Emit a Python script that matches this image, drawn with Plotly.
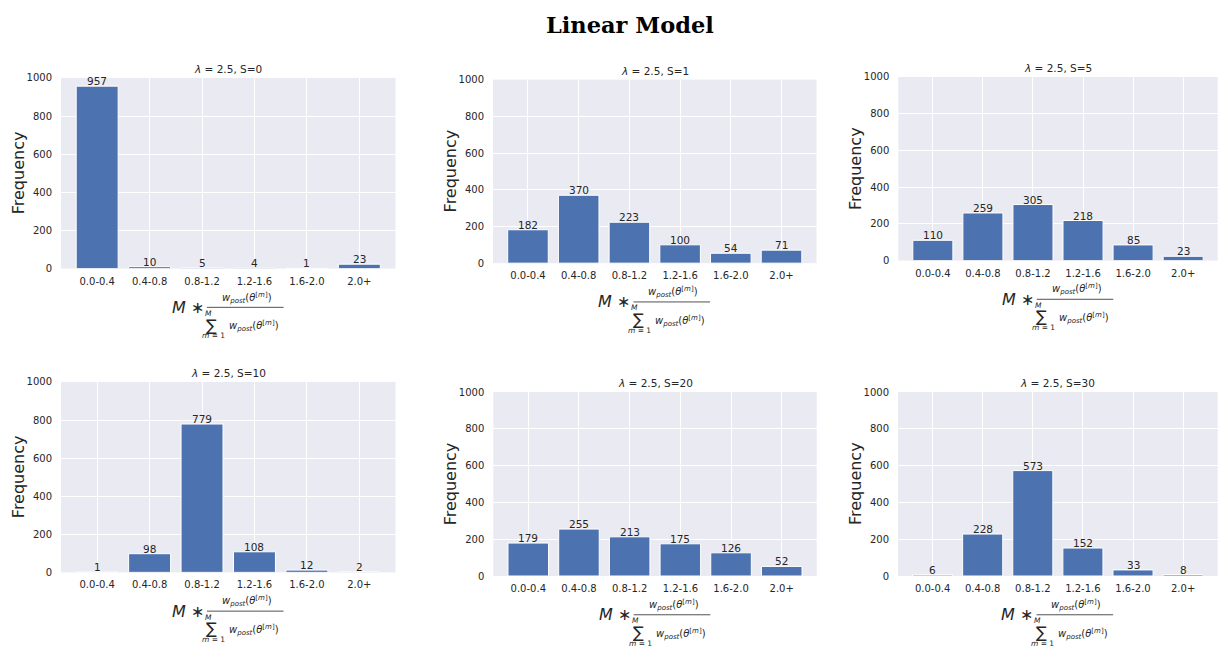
import plotly.graph_objects as go

# ---- data -------------------------------------------------------------
bins = ["0.0-0.4", "0.4-0.8", "0.8-1.2", "1.2-1.6", "1.6-2.0", "2.0+"]
s_values = [0, 1, 5, 10, 20, 30]
lam = 2.5

counts_s0 = [957, 10, 5, 4, 1, 23]
counts_s1 = [182, 370, 223, 100, 54, 71]
counts_s5 = [110, 259, 305, 218, 85, 23]
counts_s10 = [1, 98, 779, 108, 12, 2]
counts_s20 = [179, 255, 213, 175, 126, 52]
counts_s30 = [6, 228, 573, 152, 33, 8]
all_counts = [counts_s0, counts_s1, counts_s5, counts_s10, counts_s20, counts_s30]

y_ticks = [0, 200, 400, 600, 800, 1000]

# ---- layout geometry (pixels) ----------------------------------------
W, H = 1218, 651
# (left, right, top, bottom) of each plot area
boxes = [
    (61, 395.5, 73.3, 267.5),
    (493, 816.5, 75, 262),
    (898.3, 1217.7, 72.3, 259.3),
    (61, 395.5, 383, 577),
    (493.3, 816.7, 393.3, 580.7),
    (898, 1217.7, 393.3, 580.7),
]

BAR = "#4C72B0"
BG = "#EAEAF2"
TXT = "#262626"
FONT = "DejaVu Sans"


def px(x):
    return x / W


def py(y):
    return 1 - y / H


fig = go.Figure()
annotations = []
shapes = []

for i, (counts, s, (l, r, t, b)) in enumerate(zip(all_counts, s_values, boxes)):
    n = i + 1
    xa = "x" if n == 1 else f"x{n}"
    ya = "y" if n == 1 else f"y{n}"
    fig.add_trace(go.Bar(
        x=list(range(len(bins))), y=counts, xaxis=xa, yaxis=ya,
        marker=dict(color=BAR, line=dict(color="white", width=1)),
        width=0.8, showlegend=False, hoverinfo="x+y",
    ))
    key = "" if n == 1 else str(n)
    fig.layout["xaxis" + key] = dict(
        domain=[px(l), px(r)], anchor=ya, range=[-0.69, 5.69],
        tickmode="array", tickvals=list(range(len(bins))), ticktext=bins,
        showgrid=True, gridcolor="white", gridwidth=1, zeroline=False,
        showline=False, ticks="outside", ticklen=3, tickcolor="rgba(0,0,0,0)",
        tickfont=dict(family=FONT, size=10, color=TXT), fixedrange=True,
    )
    fig.layout["yaxis" + key] = dict(
        domain=[py(b), py(t)], anchor=xa, range=[0, 1000],
        tickmode="array", tickvals=y_ticks,
        showgrid=True, gridcolor="white", gridwidth=1, zeroline=False,
        showline=False, ticks="outside", ticklen=6, tickcolor="rgba(0,0,0,0)",
        tickfont=dict(family=FONT, size=10, color=TXT), fixedrange=True,
    )

    # value labels above bars
    for k, v in enumerate(counts):
        annotations.append(dict(
            x=k, y=v, xref=xa, yref=ya, text=str(v), showarrow=False,
            yanchor="bottom", xanchor="center", yshift=-3,
            font=dict(family=FONT, size=10.5, color=TXT),
        ))

    cx = (l + r) / 2
    cy = (t + b) / 2
    # subplot title
    annotations.append(dict(
        x=px(cx), y=py(t - 9), xref="paper", yref="paper",
        text=f"<i>λ</i> = {lam}, S={s}", showarrow=False,
        xanchor="center", yanchor="middle",
        font=dict(family=FONT, size=10.5, color=TXT),
    ))
    # y-axis title
    annotations.append(dict(
        x=px(l - 43), y=py(cy), xref="paper", yref="paper",
        text="Frequency", showarrow=False, textangle=-90,
        xanchor="center", yanchor="middle",
        font=dict(family=FONT, size=16, color=TXT),
    ))

    # x-axis title: M * w_post(θ^[m]) / Σ_{m=1}^{M} w_post(θ^[m])
    w_theta = "<i>w</i><sub><i>post</i></sub>(<i>θ</i><sup>[<i>m</i>]</sup>)"
    pieces = [
        # text, x, y, size, xanchor
        ("<i>M</i> ∗", cx - 22.5, b + 39.5, 16, "right"),
        (w_theta, cx + 18.5, b + 29.5, 10, "center"),
        ("<i>M</i>", cx - 20, b + 45.5, 7.5, "center"),
        ("∑", cx - 16.3, b + 57.5, 16, "center"),
        ("<i>m</i> = 1", cx - 15, b + 68.5, 7.5, "center"),
        (w_theta, cx + 25.5, b + 59, 10, "center"),
    ]
    for text, x0, y0, size, anc in pieces:
        annotations.append(dict(
            x=px(x0), y=py(y0), xref="paper", yref="paper", text=text,
            showarrow=False, xanchor=anc, yanchor="middle",
            font=dict(family=FONT, size=size, color=TXT),
        ))
    shapes.append(dict(
        type="line", xref="paper", yref="paper",
        x0=px(cx - 21.3), x1=px(cx + 55.3), y0=py(b + 39.5), y1=py(b + 39.5),
        line=dict(color=TXT, width=0.8),
    ))

# figure title
annotations.append(dict(
    x=px(630), y=py(19), xref="paper", yref="paper",
    text="<b>Linear Model</b>", showarrow=False,
    xanchor="center", yanchor="middle",
    font=dict(family="DejaVu Serif", size=22.5, color="black"),
))

fig.update_layout(
    width=W, height=H, margin=dict(l=0, r=0, t=0, b=0),
    paper_bgcolor="white", plot_bgcolor=BG,
    bargap=0.2, annotations=annotations, shapes=shapes,
    font=dict(family=FONT, color=TXT),
)

fig.write_html("out.html", config={"displayModeBar": False})
